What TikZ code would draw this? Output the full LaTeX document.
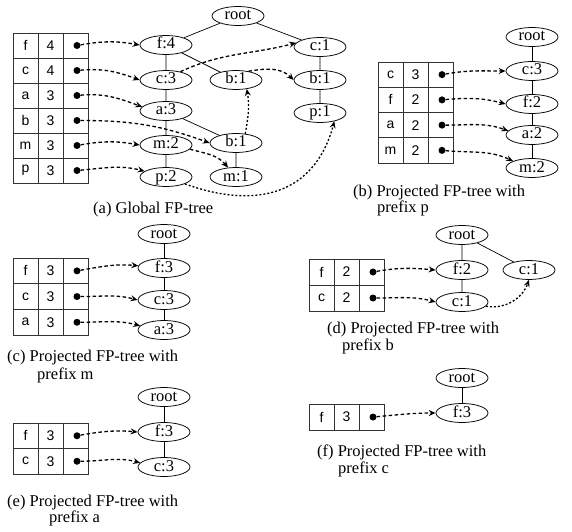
\documentclass[tikz,border=0pt]{standalone}
\usepackage{fontspec}
\setmainfont{Liberation Serif}
\newfontfamily\tabfont{Liberation Sans}
\usetikzlibrary{shapes.geometric,arrows.meta}
\tikzset{
  tn/.style={ellipse, draw, line width=0.75pt, minimum width=52pt, minimum height=19pt,
    inner sep=0pt, text height=10pt, text depth=2pt, font=\fontsize{16.5}{18}\selectfont},
  tedge/.style={line width=0.7pt},
  tabline/.style={line width=0.8pt, draw=black!80},
  tabtxt/.style={inner sep=0pt, font=\tabfont\fontsize{14}{16}\selectfont},
  dotn/.style={circle, fill=black, inner sep=0pt, minimum size=7pt},
  arr/.style={-{Stealth[length=7pt,width=6pt,inset=2.5pt]}, line width=1.3pt, dash pattern=on 3.5pt off 2.5pt},
  arrd/.style={arr, dash pattern=on 2pt off 2pt},
  captxt/.style={anchor=base west, inner sep=0pt, text height=11pt, text depth=3pt,
    font=\fontsize{16.5}{18}\selectfont}
}
\newcommand\FPtab[5]{%
  \foreach \l/\n [count=\i] in {#5} {
    \pgfmathsetmacro\yt{#3-(\i-1)*#4}
    \pgfmathsetmacro\yc{\yt-#4/2}
    \draw[tabline] (#2,\yt) rectangle (#2+75,\yt-#4);
    \draw[tabline] (#2+25,\yt) -- (#2+25,\yt-#4) (#2+50,\yt) -- (#2+50,\yt-#4);
    \node[tabtxt] (#1l\i) at (#2+12.5,\yc) {\l};
    \node[tabtxt] (#1n\i) at (#2+37.5,\yc) {\n};
    \node[dotn] (#1d\i) at (#2+64,\yc) {};
  }%
}
\begin{document}
\begin{tikzpicture}[x=1pt,y=1pt]
\useasboundingbox (0,0) rectangle (572,531);
% ---------- (a) ----------
\FPtab{a}{13}{498}{25}{f/4,c/4,a/3,b/3,m/3,p/3}
\node[tn] (aroot) at (238,515) {root};
\node[tn] (af4) at (166,486) {f:4};
\node[tn] (ac3) at (166,451) {c:3};
\node[tn] (aa3) at (166,420) {a:3};
\node[tn] (am2) at (166,386) {m:2};
\node[tn] (ap2) at (166,354) {p:2};
\node[tn] (abm) at (236,451) {b:1};
\node[tn] (abl) at (236,388) {b:1};
\node[tn] (am1) at (236,354) {m:1};
\node[tn] (ac1) at (320,484) {c:1};
\node[tn] (abr) at (320,451) {b:1};
\node[tn] (ap1) at (320,418) {p:1};
\draw[tedge] (aroot) -- (af4) (aroot) -- (ac1) (af4) -- (ac3) (ac3) -- (aa3)
  (aa3) -- (am2) (am2) -- (ap2) (af4) -- (abm) (aa3) -- (abl) (abl) -- (am1)
  (ac1) -- (abr) (abr) -- (ap1);
\draw[arr] (ad1) to[out=10,in=170] (af4.west);
\draw[arr] (ad2) to[out=5,in=160] (ac3.west);
\draw[arr] (ad3) to[out=5,in=160] (aa3.170);
\draw[arr] (ad4) to[out=0,in=160] (abl.west);
\draw[arr] (ad5) to[out=10,in=170] (am2.west);
\draw[arr] (ad6) to[out=5,in=165] (ap2.165);
\draw[arr] (ac3.30) to[out=25,in=195] (ac1.170);
\draw[arr] (abm.35) to[out=10,in=135] (abr.west);
\draw[arrd] (abl.45) to[out=80,in=-80] (abm.-40);
\draw[arr] (am2.-10) to[out=-15,in=130] (am1.130);
\draw[arrd] (ap2.-20) to[out=-20,in=-105,looseness=1.2] (ap1.-30);
\node[captxt] (capa) at (93,318) {(a) Global FP-tree};
% ---------- (b) ----------
\FPtab{b}{378}{469}{25.25}{c/3,f/2,a/2,m/2}
\node[tn] (broot) at (532,494) {root};
\node[tn] (bc3) at (532,460) {c:3};
\node[tn] (bf2) at (532,427) {f:2};
\node[tn] (ba2) at (532,396) {a:2};
\node[tn] (bm2) at (532,363) {m:2};
\draw[tedge] (broot) -- (bc3) -- (bf2) -- (ba2) -- (bm2);
\draw[arr] (bd1) to[out=10,in=180] (bc3.west);
\draw[arr] (bd2) to[out=5,in=165] (bf2.west);
\draw[arr] (bd3) to[out=0,in=160] (ba2.170);
\draw[arr] (bd4) to[out=-5,in=155] (bm2.160);
\node[captxt] (capb1) at (353,335) {(b) Projected FP-tree with};
\node[captxt] (capb2) at (377,318.5) {prefix p};
% ---------- (c) ----------
\FPtab{c}{13}{273}{25.7}{f/3,c/3,a/3}
\node[tn] (croot) at (164,297) {root};
\node[tn] (cf3) at (164,263) {f:3};
\node[tn] (cc3) at (164,231) {c:3};
\node[tn] (ca3) at (164,201) {a:3};
\draw[tedge] (croot) -- (cf3) -- (cc3) -- (ca3);
\draw[arr] (cd1) to[out=10,in=175] (cf3.175);
\draw[arr] (cd2) to[out=0,in=165] (cc3.west);
\draw[arr] (cd3) to[out=0,in=165] (ca3.170);
\node[captxt] (capc1) at (7,170) {(c) Projected FP-tree with};
\node[captxt] (capc2) at (37,152) {prefix m};
% ---------- (d) ----------
\FPtab{d}{309}{272}{26}{f/2,c/2}
\node[tn] (droot) at (462,296) {root};
\node[tn] (df2) at (462,261) {f:2};
\node[tn] (dc1) at (462,229) {c:1};
\node[tn] (dc1r) at (529,261) {c:1};
\draw[tedge] (droot) -- (df2) -- (dc1) (droot) -- (dc1r);
\draw[arr] (dd1) to[out=10,in=175] (df2.west);
\draw[arr] (dd2) to[out=0,in=165] (dc1.west);
\draw[arrd] (dc1.-10) to[out=-10,in=-110] (dc1r.-90);
\node[captxt] (capd1) at (327,197.5) {(d) Projected FP-tree with};
\node[captxt] (capd2) at (342,180.5) {prefix b};
% ---------- (e) ----------
\FPtab{e}{13}{108}{25.5}{f/3,c/3}
\node[tn] (eroot) at (164,134) {root};
\node[tn] (ef3) at (164,99) {f:3};
\node[tn] (ec3) at (164,64) {c:3};
\draw[tedge] (eroot) -- (ef3) -- (ec3);
\draw[arr] (ed1) to[out=10,in=175] (ef3.west);
\draw[arr] (ed2) to[out=0,in=165] (ec3.170);
\node[captxt] (cape1) at (7,25) {(e) Projected FP-tree with};
\node[captxt] (cape2) at (49,8.5) {prefix a};
% ---------- (f) ----------
\FPtab{f}{309}{127}{26}{f/3}
\node[tn] (froot) at (462,153) {root};
\node[tn] (ff3) at (462,118) {f:3};
\draw[tedge] (froot) -- (ff3);
\draw[arr] (fd1) to[out=5,in=180] (ff3.west);
\node[captxt] (capf1) at (317,74.5) {(f) Projected FP-tree with};
\node[captxt] (capf2) at (338,57.5) {prefix c};
\end{tikzpicture}
\end{document}
